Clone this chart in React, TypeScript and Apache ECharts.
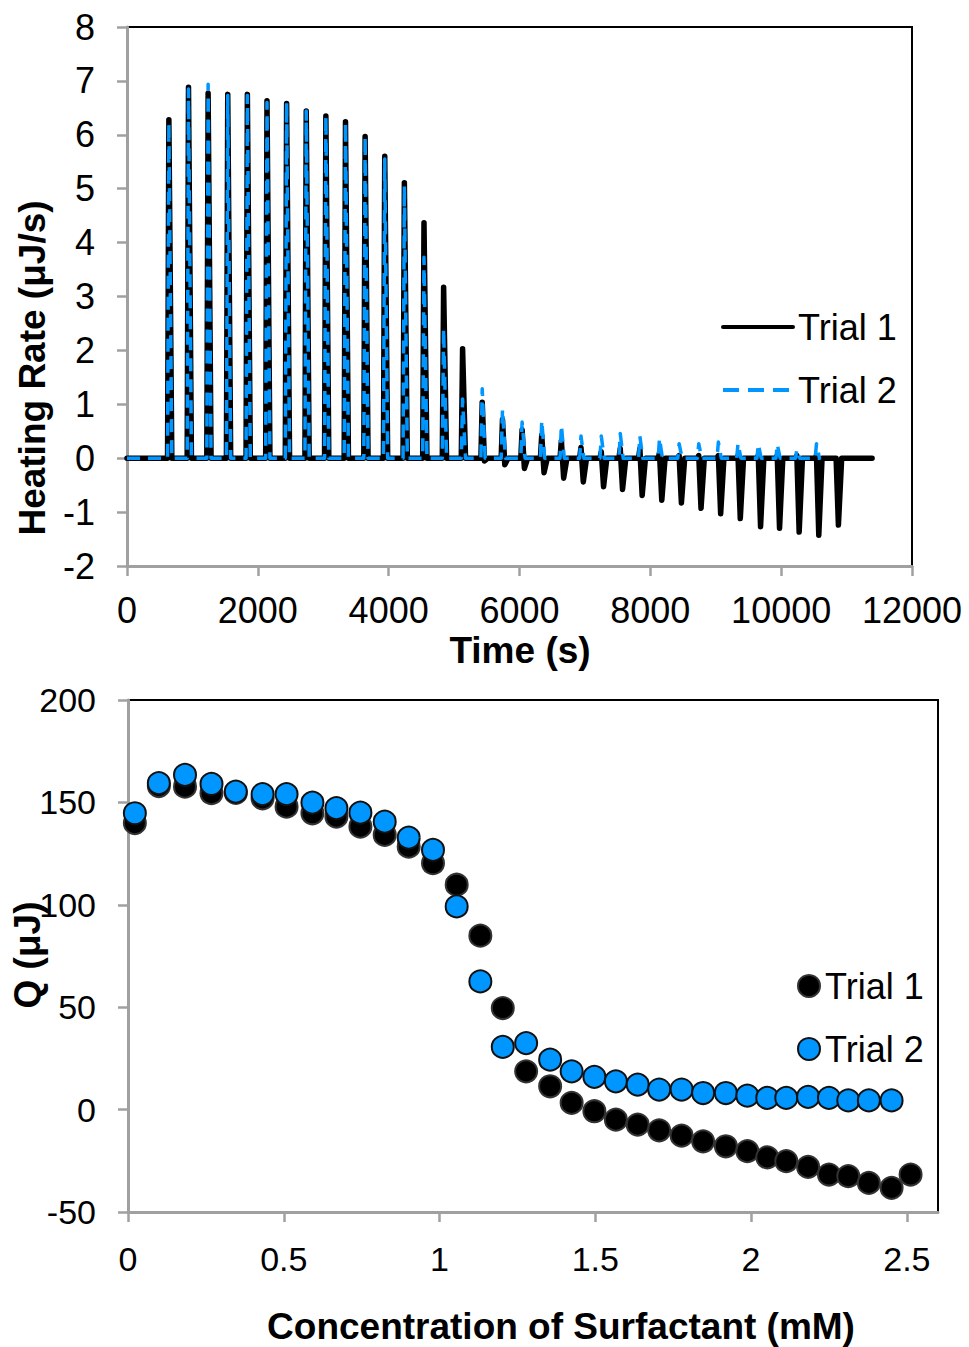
import React, { useEffect, useRef } from "react";
import * as echarts from "echarts";

const FONT = "'Liberation Sans', Arial, Helvetica, sans-serif";
const BLUE = "#0096FF";
const AXIS_GRAY = "#A0A0A0";

// ---------- Top chart: heating rate vs time ----------
const timeTicks = [0, 2000, 4000, 6000, 8000, 10000, 12000];
const injectionTimes = [
  640, 940, 1240, 1540, 1840, 2140, 2440, 2740, 3040, 3340, 3640, 3940, 4240, 4540,
  4840, 5130, 5430, 5740, 6040, 6340, 6640, 6940, 7250, 7540, 7840, 8140, 8440, 8740,
  9040, 9340, 9650, 9940, 10240, 10540, 10840,
];
const trial1Peak = [
  6.28, 6.88, 6.77, 6.75, 6.75, 6.63, 6.58, 6.44, 6.35, 6.24, 5.97, 5.6, 5.11, 4.37,
  3.17, 2.03, 1.04, 0.72, 0.53, 0.43, 0.33, 0.2, 0.12, 0.18, 0.18, 0.1, 0.05, 0.05,
  0.05, 0.05, 0.05, 0.05, 0.05, 0.05, 0,
];
const trial1Dip = [
  0, 0, 0, 0, 0, 0, 0, 0, 0, 0, 0, 0, 0, 0, 0, 0, -0.05, -0.12, -0.19, -0.27, -0.37,
  -0.44, -0.53, -0.58, -0.69, -0.78, -0.83, -0.93, -1.03, -1.12, -1.27, -1.3, -1.37,
  -1.43, -1.24,
];
const trial2Peak = [
  6.22, 6.85, 6.94, 6.73, 6.73, 6.6, 6.6, 6.44, 6.35, 6.22, 5.97, 5.55, 5.05, 3.73,
  2.4, 1.1, 1.29, 0.91, 0.67, 0.7, 0.61, 0.41, 0.41, 0.46, 0.41, 0.37, 0.27, 0.27,
  0.3, 0.27, 0.26, 0.26, 0.16, 0.27,
];
const trial1End = 11390;
const trial2End = 10560;

// ---------- Bottom chart: Q vs concentration ----------
const concentration = [
  0.022, 0.099, 0.183, 0.268, 0.346, 0.432, 0.509, 0.592, 0.669, 0.746, 0.824, 0.901,
  0.979, 1.055, 1.131, 1.203, 1.278, 1.355, 1.424, 1.497, 1.566, 1.636, 1.705, 1.777,
  1.846, 1.919, 1.988, 2.052, 2.113, 2.183, 2.25, 2.312, 2.378, 2.451, 2.512,
];
const qTrial1 = [
  139.9, 158.0, 157.7, 154.5, 154.6, 152.0, 147.9, 144.7, 143.1, 138.2, 134.1, 128.4,
  120.3, 109.8, 84.9, 49.6, 18.7, 11.4, 3.3, -0.8, -4.9, -7.3, -10.1, -12.7, -15.5,
  -17.9, -20.3, -23.3, -25.2, -28.0, -31.7, -32.5, -35.8, -38.2, -31.7,
];
const qTrial2 = [
  144.7, 159.4, 163.4, 159.0, 155.3, 154.0, 154.0, 149.9, 147.2, 145.0, 140.6, 132.8,
  126.8, 99.2, 62.6, 30.6, 32.5, 24.4, 18.7, 16.0, 13.8, 12.2, 9.8, 9.8, 8.1, 8.1, 6.8,
  5.7, 5.7, 6.2, 5.7, 4.5, 4.5, 4.5,
];

function buildTrace(peaks: number[], dips: number[] | null, end: number) {
  const pts: number[][] = [[0, 0]];
  peaks.forEach((p, i) => {
    const t = injectionTimes[i];
    pts.push([t - 20, 0], [t, p]);
    const d = dips ? dips[i] : 0;
    if (d < 0) {
      pts.push([t + 35, d], [t + 85, 0]);
    } else {
      pts.push([t + 45, 0]);
    }
  });
  pts.push([end, 0]);
  return pts;
}

export default function App() {
  const ref = useRef<HTMLDivElement>(null);

  useEffect(() => {
    if (!ref.current) return;
    const chart = echarts.init(ref.current, undefined, { renderer: "svg" });

    const axisLine = { show: true, onZero: false, lineStyle: { color: AXIS_GRAY, width: 3 } };
    const axisTick = { show: true, length: 10, lineStyle: { color: AXIS_GRAY, width: 2.5 } };

    const scatterPoints = (ys: number[]) => ys.map((y, i) => [concentration[i], y]);

    chart.setOption({
      animation: false,
      backgroundColor: "#fff",
      textStyle: { fontFamily: FONT },
      grid: [
        { left: 127, top: 27, width: 785, height: 539, show: true, borderColor: "#000", borderWidth: 2, backgroundColor: "transparent" },
        { left: 128, top: 700, width: 810, height: 512, show: true, borderColor: "#000", borderWidth: 2, backgroundColor: "transparent" },
      ],
      xAxis: [
        {
          type: "value", gridIndex: 0, min: timeTicks[0], max: timeTicks[timeTicks.length - 1], interval: 2000,
          axisLine, axisTick, splitLine: { show: false },
          axisLabel: { fontSize: 36, color: "#000", fontFamily: FONT, margin: 26, formatter: (v: number) => String(v) },
        },
        {
          type: "value", gridIndex: 1, min: 0, max: 2.6, interval: 0.5,
          axisLine, axisTick, splitLine: { show: false },
          axisLabel: { fontSize: 34, color: "#000", fontFamily: FONT, margin: 30, showMaxLabel: false, formatter: (v: number) => String(v) },
        },
      ],
      yAxis: [
        {
          type: "value", gridIndex: 0, min: -2, max: 8, interval: 1,
          axisLine, axisTick, splitLine: { show: false },
          axisLabel: { fontSize: 36, color: "#000", fontFamily: FONT, margin: 32 },
        },
        {
          type: "value", gridIndex: 1, min: -50, max: 200, interval: 50,
          axisLine, axisTick, splitLine: { show: false },
          axisLabel: { fontSize: 34, color: "#000", fontFamily: FONT, margin: 32 },
        },
      ],
      legend: [
        {
          orient: "vertical", left: 716, top: 304, itemGap: 27, itemWidth: 70, itemHeight: 14,
          selectedMode: false,
          data: [
            { name: "Trial 1" },
            { name: "Trial 2", lineStyle: { type: [16, 9] } },
          ],
          itemStyle: { opacity: 0 },
          lineStyle: { width: 4 },
          textStyle: { fontSize: 36, color: "#000", fontFamily: FONT },
        },
        {
          orient: "vertical", left: 792, top: 963, itemGap: 27, itemWidth: 22, itemHeight: 22,
          selectedMode: false, data: ["Trial 1 (Q)", "Trial 2 (Q)"],
          formatter: (name: string) => name.replace(" (Q)", ""),
          textStyle: { fontSize: 36, color: "#000", fontFamily: FONT },
        },
      ],
      graphic: [
        { type: "text", x: 520, y: 650, style: { text: "Time (s)", font: `bold 37px ${FONT}`, fill: "#000", textAlign: "center", textVerticalAlign: "middle" } },
        { type: "text", x: 32, y: 368, rotation: Math.PI / 2, style: { text: "Heating Rate (μJ/s)", font: `bold 37px ${FONT}`, fill: "#000", textAlign: "center", textVerticalAlign: "middle" } },
        { type: "text", x: 27, y: 955, rotation: Math.PI / 2, style: { text: "Q (μJ)", font: `bold 37px ${FONT}`, fill: "#000", textAlign: "center", textVerticalAlign: "middle" } },
        { type: "text", x: 561, y: 1326, style: { text: "Concentration of Surfactant (mM)", font: `bold 37px ${FONT}`, fill: "#000", textAlign: "center", textVerticalAlign: "middle" } },
      ],
      series: [
        {
          name: "Trial 1", type: "line", xAxisIndex: 0, yAxisIndex: 0, symbol: "none",
          data: buildTrace(trial1Peak, trial1Dip, trial1End),
          lineStyle: { color: "#000", width: 5.5, join: "round", cap: "round" },
          itemStyle: { color: "#000" },
        },
        {
          name: "Trial 2", type: "line", xAxisIndex: 0, yAxisIndex: 0, symbol: "none",
          data: buildTrace(trial2Peak, null, trial2End),
          lineStyle: { color: BLUE, width: 3.5, type: [13, 8], join: "round" },
          itemStyle: { color: BLUE },
        },
        {
          name: "Trial 1 (Q)", type: "scatter", xAxisIndex: 1, yAxisIndex: 1, symbol: "circle", symbolSize: 22,
          data: scatterPoints(qTrial1),
          itemStyle: { color: "#000", borderColor: "#333", borderWidth: 2, opacity: 1 },
        },
        {
          name: "Trial 2 (Q)", type: "scatter", xAxisIndex: 1, yAxisIndex: 1, symbol: "circle", symbolSize: 22,
          data: scatterPoints(qTrial2),
          itemStyle: { color: BLUE, borderColor: "#111", borderWidth: 2, opacity: 1 },
        },
      ],
    });

    return () => chart.dispose();
  }, []);

  return (
    <div
      ref={ref}
      style={{ position: "absolute", left: 0, top: 0, width: 969, height: 1347, background: "#fff" }}
    />
  );
}
